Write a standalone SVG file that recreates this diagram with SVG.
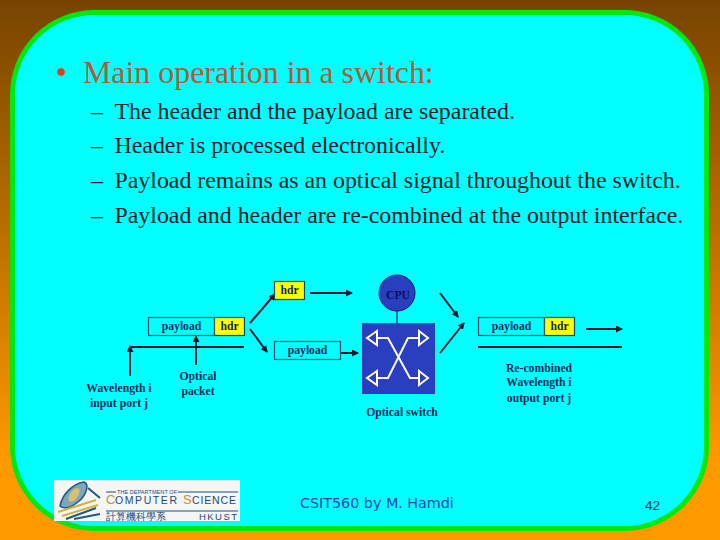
<svg xmlns="http://www.w3.org/2000/svg" width="720" height="540" viewBox="0 0 720 540">
<style>
.b{font-family:"Liberation Serif",serif;font-size:23.85px;fill:#062028}
.l{font-family:"Liberation Serif",serif;font-size:11.7px;font-weight:bold;fill:#062a5a;text-anchor:middle}
.box{stroke:#0a4a6a;stroke-width:1.2}
.conn{stroke:#0a1a30;stroke-width:2;fill:none}
.w{stroke:#fff;stroke-width:2;fill:none}
.logo{font-family:"Liberation Sans",sans-serif;fill:#1e4a78}
</style>
<defs>
<linearGradient id="bg" x1="0" y1="0" x2="0" y2="1"><stop offset="0" stop-color="#774400"/><stop offset="0.85" stop-color="#ff9900"/></linearGradient>
<marker id="a" markerWidth="8" markerHeight="8" refX="6" refY="3.500" orient="auto" markerUnits="userSpaceOnUse"><path d="M0 0L7 3.500L0 7z" fill="#0a1a30"/></marker>
</defs>
<rect width="720" height="540" fill="url(#bg)"/>
<rect x="12.500" y="12.500" width="694" height="516" rx="82" ry="82" fill="#00ffff" stroke="#00e810" stroke-width="5"/>
<circle cx="61" cy="72" r="3.800" fill="#e04010"/>
<text x="83" y="82.500" font-family="Liberation Serif,serif" font-size="31.900" fill="#b05a3a">Main operation in a switch:</text>
<g class="b">
<text x="97" y="119" text-anchor="middle">–</text><text x="114.500" y="119">The header and the payload are separated.</text>
<text x="97" y="153" text-anchor="middle">–</text><text x="114.500" y="153">Header is processed electronically.</text>
<text x="97" y="188" text-anchor="middle">–</text><text x="114.500" y="188">Payload remains as an optical signal throughout the switch.</text>
<text x="97" y="223" text-anchor="middle">–</text><text x="114.500" y="223">Payload and header are re-combined at the output interface.</text>
</g>
<g id="connectors">
<path class="conn" d="M310 293H352" marker-end="url(#a)"/>
<path class="conn" d="M130 347H244M130 376V346" marker-end="url(#a)"/>
<path class="conn" d="M196 365V336" marker-end="url(#a)"/>
<path class="conn" d="M250 323L275 294" marker-end="url(#a)"/>
<path class="conn" d="M250 329L267 352" marker-end="url(#a)"/>
<path class="conn" d="M341 353H358" marker-end="url(#a)"/>
<path class="conn" d="M440 293L458 317" marker-end="url(#a)"/>
<path class="conn" d="M440 353L464 323" marker-end="url(#a)"/>
<path class="conn" d="M586 329H622" marker-end="url(#a)"/>
<path class="conn" d="M478 347H622"/>
<path d="M397 311V323" stroke="#0a1a50" stroke-width="1.200"/>
</g>
<g id="hdr-top"><rect class="box" x="274.500" y="281.500" width="30" height="18" fill="#ffff00"/><text class="l" x="289.500" y="294">hdr</text></g>
<g id="packet-in"><rect class="box" x="148.500" y="317.500" width="66" height="18" fill="none"/><text class="l" x="181.500" y="330">payload</text><rect class="box" x="214.500" y="317.500" width="30" height="18" fill="#ffff00"/><text class="l" x="229.500" y="330">hdr</text></g>
<g id="payload-mid"><rect class="box" x="274.500" y="341.500" width="66" height="18" fill="none"/><text class="l" x="307.500" y="354">payload</text></g>
<g id="cpu"><circle cx="397" cy="293" r="18" fill="#2a3fc0" stroke="#0a1a70"/><text class="l" x="398" y="299" style="fill:#0a1060">CPU</text></g>
<g id="switch"><rect x="362" y="323" width="73" height="71" fill="#2a3fc0"/>
<path class="w" d="M377 338H388L410 378H419M419 338H408L388 378H377"/>
<path class="w" d="M377 331L367 338L377 345ZM419 331L428 338L419 345ZM419 371L428 378L419 385ZM377 371L367 378L377 385Z"/>
</g>
<g id="packet-out"><rect class="box" x="478.500" y="317.500" width="66" height="18" fill="none"/><text class="l" x="511.500" y="330">payload</text><rect class="box" x="544.500" y="317.500" width="30" height="18" fill="#ffff00"/><text class="l" x="559.500" y="330">hdr</text></g>
<g id="labels">
<text class="l" x="119" y="392">Wavelength i</text><text class="l" x="119" y="407">input port j</text>
<text class="l" x="198" y="380">Optical</text><text class="l" x="198" y="395">packet</text>
<text class="l" x="539" y="372">Re-combined</text><text class="l" x="539" y="386">Wavelength i</text><text class="l" x="539" y="402">output port j</text>
<text class="l" x="402" y="416">Optical switch</text>
</g>
<g id="logo"><rect x="54" y="480" width="186" height="41" fill="#f4f6f4"/>
<path d="M60 506C62 495 72 484 84 482C90 484 86 496 78 502C72 507 64 510 60 506Z" fill="#7fa6bd" stroke="#1e5a80" stroke-width="1.500"/>
<ellipse cx="74" cy="495" rx="4" ry="8" transform="rotate(35 74 495)" fill="#d8c070"/>
<path d="M66 519L96 508M74 519L100 514M88 488L100 498" stroke="#1e5a80" stroke-width="2" fill="none"/>
<path d="M58 512L96 500M62 516L98 505" stroke="#d8b040" stroke-width="2" fill="none"/>
<path d="M106 492H116M178 492H238M106 511H238" stroke="#1e4a78" stroke-width="1.200"/>
<text class="logo" x="117" y="494" font-size="5.500" textLength="60">THE DEPARTMENT OF</text>
<text class="logo" x="106" y="504" font-size="13" style="fill:#c89030">C</text><text class="logo" x="115" y="504" font-size="10.500" textLength="62">OMPUTER</text>
<text class="logo" x="183" y="504" font-size="13" style="fill:#c89030">S</text><text class="logo" x="192" y="504" font-size="10.500" textLength="44">CIENCE</text>
<text class="logo" x="106" y="520" font-size="10" font-family="Noto Sans CJK TC,sans-serif">計算機科學系</text>
<text class="logo" x="199" y="520" font-size="9.500" textLength="38">HKUST</text></g>
<text x="300" y="508" font-family="DejaVu Sans,sans-serif" font-size="14.300" fill="#2040b0">CSIT560 by M. Hamdi</text>
<text x="645" y="510" font-family="Liberation Sans,sans-serif" font-size="13.500" fill="#1a2a50">42</text>
</svg>
